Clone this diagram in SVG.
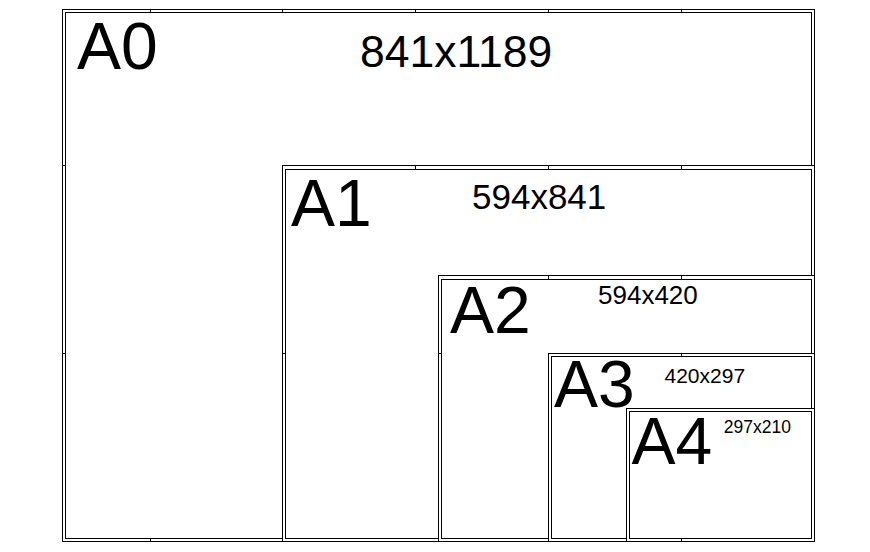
<svg xmlns="http://www.w3.org/2000/svg" width="870" height="552" viewBox="0 0 870 552">
<style>
.b{fill:#fff;stroke:#000;stroke-width:1}
.i{fill:none;stroke:#000;stroke-width:1}
.t{fill:none;stroke:#000;stroke-width:1}
.lbl{font-family:"Liberation Sans",Arial,sans-serif;fill:#000}
.big{font-size:66px}
</style>
<rect width="870" height="552" fill="#fff"/>
<g id="A0">
<rect class="b" x="62.5" y="9.5" width="752" height="532"/>
<rect class="i" x="65.5" y="12.5" width="746" height="526"/>
<path class="t" d="M150.5 9.5V12.5M282.5 9.5V12.5M415.5 9.5V12.5M548.5 9.5V12.5M681.5 9.5V12.5M62.5 165.5H65.5M62.5 353.5H65.5M150.5 538.5V541.5M415.5 538.5V541.5M681.5 538.5V541.5"/>
<text class="lbl big" x="77" y="69">A0</text>
<text class="lbl" x="360" y="66.5" font-size="44.5">841x1189</text>
</g>
<g id="A1">
<rect class="b" x="282.5" y="165.5" width="532" height="376"/>
<rect class="i" x="285.5" y="169.5" width="526" height="369"/>
<path class="t" d="M415.5 165.5V169.5M548.5 165.5V169.5M681.5 165.5V169.5M282.5 353.5H285.5"/>
<text class="lbl big" x="291" y="226">A1</text>
<text class="lbl" x="472" y="209" font-size="35">594x841</text>
</g>
<g id="A2">
<rect class="b" x="438.5" y="275.5" width="376" height="266"/>
<rect class="i" x="441.5" y="279.5" width="370" height="259"/>
<path class="t" d="M548.5 275.5V279.5M681.5 275.5V279.5M438.5 353.5H441.5"/>
<text class="lbl big" x="450" y="333">A2</text>
<text class="lbl" x="598" y="304.3" font-size="26">594x420</text>
</g>
<g id="A3">
<rect class="b" x="548.5" y="353.5" width="266" height="188"/>
<rect class="i" x="551.5" y="356.5" width="260" height="182"/>
<path class="t" d="M681.5 353.5V356.5"/>
<text class="lbl big" x="554" y="407">A3</text>
<text class="lbl" x="664.5" y="382.7" font-size="21">420x297</text>
</g>
<g id="A4">
<rect class="b" x="626.5" y="408.5" width="188" height="133"/>
<rect class="i" x="629.5" y="411.5" width="182" height="127"/>
<path class="t" d="M681.5 538.5V541.5"/>
<text class="lbl big" x="631.5" y="464">A4</text>
<text class="lbl" x="723.8" y="432.7" font-size="17.5">297x210</text>
</g>
<g id="connectors"/>
</svg>
